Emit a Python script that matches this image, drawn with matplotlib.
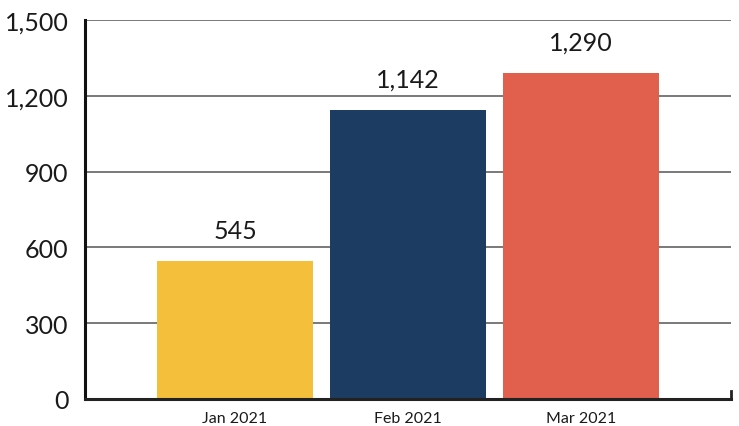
import matplotlib
matplotlib.use("Agg")
import matplotlib.pyplot as plt
from matplotlib.ticker import FuncFormatter
import numpy as np

categories = ["Jan 2021", "Feb 2021", "Mar 2021"]
values = [545, 1142, 1290]
colors = ["#F4BF3A", "#1D3C61", "#E0604D"]
yticks = [0, 300, 600, 900, 1200, 1500]

plt.rcParams['font.family'] = ['Lato', 'DejaVu Sans']

fig = plt.figure(figsize=(7.39, 4.27), dpi=100)
ax = fig.add_axes([85/739, 27/427, (731-85)/739, (400-21)/427])

x = np.arange(len(categories))
bars = ax.bar(x, values, width=0.9, color=colors, zorder=3)
ax.bar_label(bars, labels=[f"{v:,}" for v in values], padding=14,
             fontsize=18, color="#1a1a1a")

ax.set_xlim(-0.867, 2.867)
ax.set_ylim(0, 1500)
ax.set_yticks(yticks)
ax.yaxis.set_major_formatter(FuncFormatter(lambda v, p: f"{int(v):,}"))
ax.set_xticks(x)
ax.set_xticklabels(categories)

ax.grid(axis='y', color="#555555", linewidth=1.1, zorder=0)
ax.tick_params(axis='y', length=0, pad=12, labelsize=18, labelcolor="#1a1a1a")
ax.tick_params(axis='x', length=0, pad=9, labelsize=11.5, labelcolor="#1a1a1a")

ax.spines['top'].set_visible(False)
ax.spines['left'].set_linewidth(2.2)
ax.spines['left'].set_color("#111111")
ax.spines['bottom'].set_linewidth(2.2)
ax.spines['bottom'].set_color("#222222")
ax.spines['bottom'].set_zorder(4)
ax.spines['right'].set_bounds(0, 30)
ax.spines['right'].set_linewidth(2)
ax.spines['right'].set_color("#222222")

fig.savefig("out.png", dpi=100)
